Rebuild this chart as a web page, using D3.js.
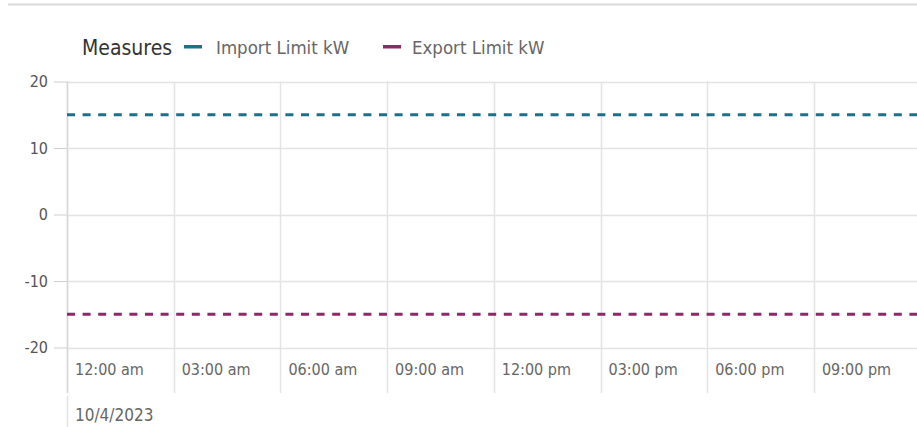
<!DOCTYPE html>
<html>
<head>
<meta charset="utf-8">
<script src="https://cdn.jsdelivr.net/npm/d3@7"></script>
<style>
  html, body { margin: 0; padding: 0; background: #fff; }
  svg { display: block; }
  text { font-family: "DejaVu Sans Condensed", "Liberation Sans Narrow", "Roboto", sans-serif; }
</style>
</head>
<body>
<svg id="chart" width="917" height="427"></svg>
<script>
// ---- data ----
const seriesNames = ["Import Limit kW", "Export Limit kW"];
const seriesColors = ["#1b7189", "#8b2a67"];
const hours = [0, 24];
const importValues = [15, 15];
const exportValues = [-15, -15];
const yTicks = [20, 10, 0, -10, -20];
const xTickHours = [0, 3, 6, 9, 12, 15, 18, 21];
const xTickLabels = ["12:00 am", "03:00 am", "06:00 am", "09:00 am", "12:00 pm", "03:00 pm", "06:00 pm", "09:00 pm"];
const dateLabel = "10/4/2023";
const legendTitle = "Measures";

// ---- layout ----
const svg = d3.select("#chart");
const plotLeft = 67, plotTop = 81.5, plotBottom = 347.5;
const x = d3.scaleLinear().domain([0, 24]).range([plotLeft, plotLeft + 8 * 106.7]);
const y = d3.scaleLinear().domain([-20, 20]).range([plotBottom, plotTop]);
const gridColor = "#e3e3e3";

// top separator
svg.append("line").attr("x1", 8).attr("x2", 917).attr("y1", 4.5).attr("y2", 4.5)
  .attr("stroke", "#d9d9d9").attr("stroke-width", 2);

// horizontal grid + y ticks
const yAxis = d3.axisLeft(y).tickValues(yTicks).tickSize(13).tickPadding(6)
  .tickFormat(d => String(d));
const gy = svg.append("g").attr("transform", `translate(${plotLeft},0)`).call(yAxis);
gy.select(".domain").remove();
gy.selectAll(".tick line").attr("stroke", "#cfcfcf");
gy.selectAll(".tick text").attr("fill", "#555").attr("font-size", 16)
  .style("font-family", '"DejaVu Sans Condensed", sans-serif');
svg.append("g").selectAll("line").data(yTicks).join("line")
  .attr("x1", plotLeft).attr("x2", 917)
  .attr("y1", d => Math.round(y(d)) + 0.5).attr("y2", d => Math.round(y(d)) + 0.5)
  .attr("stroke", gridColor).attr("stroke-width", 1.5);

// vertical grid
svg.append("g").selectAll("line").data(xTickHours).join("line")
  .attr("x1", d => Math.round(x(d)) + 0.5).attr("x2", d => Math.round(x(d)) + 0.5)
  .attr("y1", plotTop).attr("y2", 393)
  .attr("stroke", gridColor).attr("stroke-width", 1.5);

// x tick labels
svg.append("g").selectAll("text").data(xTickHours).join("text")
  .attr("x", d => x(d) + 8).attr("y", 375)
  .attr("fill", "#666").attr("font-size", 16)
  .text((d, i) => xTickLabels[i]);

// date band
svg.append("line").attr("x1", plotLeft + 0.5).attr("x2", plotLeft + 0.5).attr("y1", 396).attr("y2", 427)
  .attr("stroke", gridColor).attr("stroke-width", 1.5);
svg.append("text").attr("x", plotLeft + 8).attr("y", 421).attr("fill", "#666").attr("font-size", 17).text(dateLabel);

// axis line at left
svg.append("line").attr("x1", plotLeft + 0.5).attr("x2", plotLeft + 0.5).attr("y1", plotTop).attr("y2", 393)
  .attr("stroke", "#d8d8d8").attr("stroke-width", 1.5);

// series
const line = d3.line().x(d => x(d[0])).y(d => y(d[1]));
[importValues, exportValues].forEach((vals, i) => {
  svg.append("path")
    .datum(hours.map((h, j) => [h, vals[j]]))
    .attr("d", line)
    .attr("fill", "none")
    .attr("stroke", seriesColors[i])
    .attr("stroke-width", 3.2)
    .attr("stroke-dasharray", "8,7.6");
});

// legend
svg.append("text").attr("x", 82).attr("y", 55).attr("fill", "#333").attr("font-size", 21).text(legendTitle);
const legendX = [[184, 216], [383, 412]];
seriesNames.forEach((name, i) => {
  svg.append("rect").attr("x", legendX[i][0]).attr("y", 45).attr("width", 18).attr("height", 3.5)
    .attr("fill", seriesColors[i]);
  svg.append("text").attr("x", legendX[i][1]).attr("y", 54).attr("fill", "#666").attr("font-size", 18.5).text(name);
});
</script>
</body>
</html>
